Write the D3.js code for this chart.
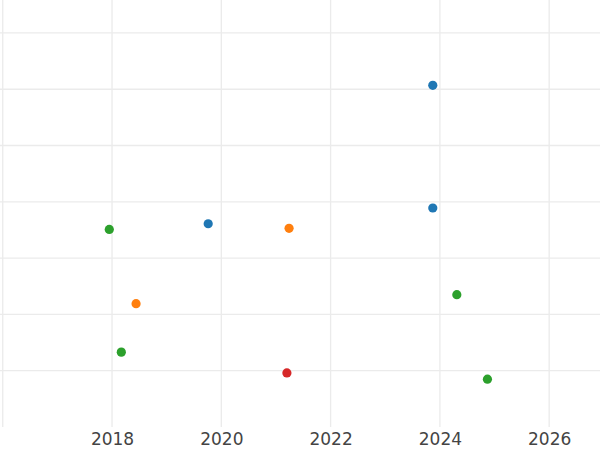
<!DOCTYPE html>
<html>
<head>
<meta charset="utf-8">
<script src="https://cdn.jsdelivr.net/npm/d3@7"></script>
<style>
  body { margin: 0; background: #fff; }
  svg { display: block; }
</style>
</head>
<body>
<div id="chart"></div>
<script>
// data
const years  = [2023.87, 2023.87, 2019.76, 2017.95, 2021.24, 2018.44, 2018.17, 2021.20, 2024.31, 2024.87];
const values = [6.07, 3.89, 3.61, 3.51, 3.53, 2.19, 1.33, 0.96, 2.35, 0.85];
const groups = ['A', 'A', 'A', 'C', 'B', 'B', 'C', 'D', 'C', 'C'];
const groupNames = ['A', 'B', 'C', 'D'];
const xTicks = [2016, 2018, 2020, 2022, 2024, 2026];
const yTicks = [1, 2, 3, 4, 5, 6, 7];

const width = 600, height = 450;
const plotBottom = 427;

const svg = d3.select('#chart').append('svg')
    .attr('width', width)
    .attr('height', height);

const x = d3.scaleLinear().domain([2015.95, 2026.93]).range([0, width]);
const y = d3.scaleLinear().domain([0, 7.585]).range([plotBottom, 0]);
const color = d3.scaleOrdinal().domain(groupNames)
    .range(['#1f77b4', '#ff7f0e', '#2ca02c', '#d62728']);

// grid
const grid = svg.append('g');
grid.selectAll('.vg')
    .data(xTicks)
    .enter()
    .append('line')
    .attr('x1', d => x(d)).attr('x2', d => x(d))
    .attr('y1', 0).attr('y2', plotBottom)
    .attr('stroke', '#ebebeb')
    .attr('stroke-width', 1.3);
grid.selectAll('.hg')
    .data(yTicks)
    .enter()
    .append('line')
    .attr('x1', 0).attr('x2', width)
    .attr('y1', d => y(d)).attr('y2', d => y(d))
    .attr('stroke', '#ebebeb')
    .attr('stroke-width', 1.3);

// x axis labels
const xAxis = svg.append('g')
    .attr('transform', `translate(0,${plotBottom})`)
    .call(d3.axisBottom(x).tickValues(xTicks.slice(1)).tickFormat(d3.format('d')).tickSize(0).tickPadding(6));
xAxis.select('.domain').remove();
xAxis.selectAll('text')
    .attr('fill', '#444')
    .attr('font-family', 'DejaVu Sans')
    .attr('font-size', 17);

// points
svg.append('g')
    .selectAll('circle')
    .data(years.map((d, i) => ({ x: d, y: values[i], g: groups[i] })))
    .enter()
    .append('circle')
    .attr('cx', d => x(d.x))
    .attr('cy', d => y(d.y))
    .attr('r', 4.6)
    .attr('fill', d => color(d.g));
</script>
</body>
</html>
